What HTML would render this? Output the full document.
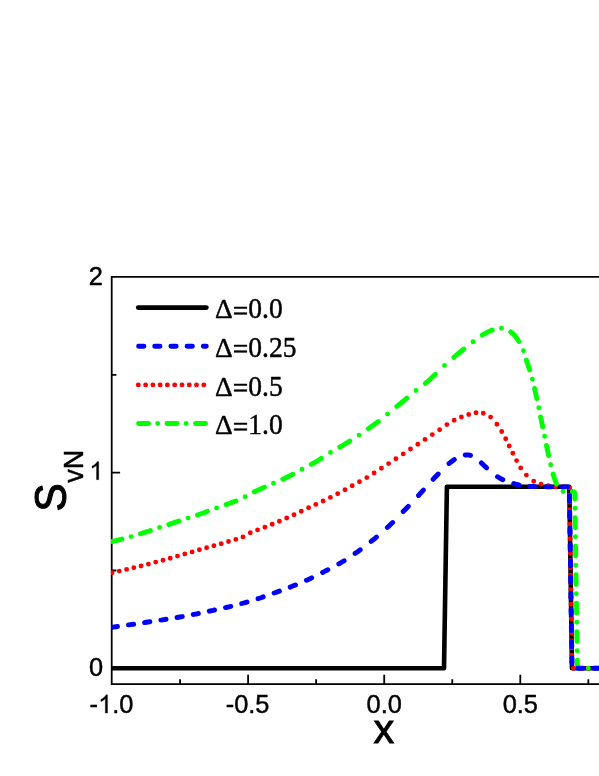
<!DOCTYPE html>
<html><head><meta charset="utf-8"><title>chart</title>
<style>
html,body{margin:0;padding:0;background:#fff;}
body{width:599px;height:776px;overflow:hidden;position:relative;font-family:"Liberation Sans",sans-serif;}
svg{position:absolute;left:0;top:0;display:block;will-change:transform;}
text{fill:#000;stroke:#000;stroke-width:0.45px;stroke-linejoin:round;}
.t{font-family:"Liberation Sans",sans-serif;font-size:25.4px;}
.l{font-family:"Liberation Serif",serif;font-size:28px;stroke:none;}
.c{fill:none;stroke-width:4.35;stroke-linecap:round;stroke-linejoin:round;}
.d{stroke-width:4.9;}
</style></head><body>
<svg width="599" height="776" viewBox="0 0 599 776">
<rect width="599" height="776" fill="#fff"/>
<g transform="translate(0,0.25)">
<!-- frame -->
<g stroke="#000" stroke-width="1.8" fill="none" stroke-linecap="butt">
<path d="M640,276.7 H111.7 V683.8 H640"/>
<path d="M111.7,472.4 h8.4 M111.7,668.1 h8.4 M111.7,374.55 h4.7 M111.7,570.25 h4.7"/>
<path d="M248.1,683.8 v-9.3 M384.2,683.8 v-9.3 M520.3,683.8 v-9.3 M180.05,683.8 v-4.9 M316.15,683.8 v-4.9 M452.25,683.8 v-4.9 M588.35,683.8 v-4.9"/>
</g>
</g>
<!-- tick labels -->
<g class="t" text-anchor="end">
<text x="102.9" y="285.0">2</text>
<text x="103.0" y="675.65">0</text>
<text x="103.4" y="479.7" style="fill:none;stroke:none">1</text>
</g>
<path transform="translate(89.28,479.7) scale(0.012402,-0.012402)" d="M763 0H583V1147Q518 1085 412.5 1023T223 930V1104Q373 1174.5 485.5 1275T644 1470H763Z" fill="#000" stroke="#000" stroke-width="0.3" stroke-linejoin="round" vector-effect="non-scaling-stroke"/>
<g class="t">
<text x="89.62" y="713.1">-<tspan style="fill:none;stroke:none">1</tspan>.0</text>
</g>
<path transform="translate(98.08,713.1) scale(0.012402,-0.012402)" d="M763 0H583V1147Q518 1085 412.5 1023T223 930V1104Q373 1174.5 485.5 1275T644 1470H763Z" fill="#000" stroke="#000" stroke-width="0.3" stroke-linejoin="round" vector-effect="non-scaling-stroke"/>
<g class="t" text-anchor="middle">
<text x="247.6" y="713.1">-0.5</text>
<text x="384.2" y="713.1">0.0</text>
<text x="520.3" y="713.1">0.5</text>
</g>
<text transform="translate(383.85,743.3) scale(0.945,0.917)" text-anchor="middle" style="font-family:'Liberation Sans',sans-serif;font-size:44px;stroke-width:0.95px;stroke-linejoin:miter;">x</text>
<g transform="translate(66.0,511.5) rotate(-90) scale(0.958,1.012)">
<text x="0" y="0" style="font-family:'Liberation Sans',sans-serif;font-size:44px;stroke-width:1.1px;">S</text>
</g>
<g transform="translate(82.7,482.7) rotate(-90)">
<text x="0" y="0" style="font-family:'Liberation Sans',sans-serif;font-size:27px;">vN</text>
</g>
<defs><clipPath id="cp"><rect x="111" y="270" width="520" height="420"/></clipPath></defs>
<g transform="translate(0,0.2)">
<!-- curves -->
<g clip-path="url(#cp)">
<path class="c" stroke="#000" style="stroke-linejoin:round;stroke-linecap:butt;stroke-width:4.6" d="M112.0,668.1 L444.0,668.1 L446.9,486.6 L569.3,486.6 L572.0,668.1 L640.0,668.1"/>
<path class="c d" stroke="#ff0000" d="M112.0,572.6h0M119.3,570.9h0M126.6,569.2h0M133.8,567.5h0M141.1,565.8h0M148.4,563.9h0M155.7,561.9h0M163.0,560.0h0M170.2,558.1h0M177.5,555.9h0M184.8,553.7h0M192.1,551.7h0M199.4,549.6h0M206.6,547.6h0M213.9,545.6h0M221.2,543.5h0M228.5,541.3h0M235.8,539.2h0M243.0,536.7h0M250.3,532.6h0M257.6,529.7h0M264.9,527.0h0M272.2,524.1h0M279.4,521.0h0M286.7,517.8h0M294.0,514.5h0M301.3,511.0h0M308.6,507.5h0M315.8,504.2h0M323.1,500.8h0M330.4,497.2h0M337.7,493.5h0M345.0,489.6h0M352.2,485.6h0M359.5,481.6h0M366.8,477.4h0M374.1,472.8h0M381.4,468.1h0M388.6,463.4h0M395.9,458.6h0M403.2,453.7h0M410.5,448.8h0M417.8,444.0h0M425.0,439.2h0M432.3,434.4h0M439.6,429.5h0M446.9,424.4h0M454.2,420.0h0M461.4,416.8h0M468.7,414.3h0M476.0,412.6h0M483.3,413.1h0M490.6,416.9h0M496.9,424.0h0M501.7,431.3h0M505.7,438.5h0M509.2,445.8h0M512.8,453.1h0M516.6,460.4h0M520.7,467.7h0M526.4,474.9h0M533.7,481.0h0M541.0,484.1h0M548.3,485.4h0M555.6,486.5h0M562.8,486.7h0M569.3,487.5h0M569.4,494.8h0M569.5,502.1h0M569.6,509.4h0M569.7,516.6h0M569.9,523.9h0M570.0,531.2h0M570.1,538.5h0M570.2,545.8h0M570.3,553.0h0M570.4,560.3h0M570.5,567.6h0M570.6,574.9h0M570.7,582.2h0M570.8,589.4h0M570.9,596.7h0M571.0,604.0h0M571.2,611.3h0M571.3,618.6h0M571.4,625.8h0M571.5,633.1h0M571.6,640.4h0M571.7,647.7h0M571.8,655.0h0M571.9,662.2h0M573.4,668.1h0M580.7,668.1h0M588.0,668.1h0M595.3,668.1h0M602.5,668.1h0M609.8,668.1h0M617.1,668.1h0M624.4,668.1h0M631.7,668.1h0M638.9,668.1h0"/>
<path class="c d" stroke="#00ff00" d="M112.0,541.3 L113.0,541.1 L116.0,540.3 L119.0,539.6 L121.9,538.9M131.1,536.4h0M140.4,533.6 L141.0,533.4 L144.0,532.4 L147.0,531.5 L150.0,530.5 L150.4,530.4M159.6,527.3h0M168.9,524.2 L169.0,524.1 L172.0,523.2 L175.0,522.2 L178.0,521.2 L178.9,520.9M188.1,517.9h0M197.4,514.8 L198.0,514.6 L201.0,513.5 L204.0,512.5 L207.0,511.4 L207.4,511.2M216.6,507.7h0M225.9,504.4 L226.0,504.4 L229.0,503.3 L232.0,502.2 L235.0,501.1 L235.9,500.8M245.1,496.5h0M254.3,491.6 L255.0,491.3 L258.0,489.9 L261.0,488.5 L264.0,487.2 L264.4,487.0M273.5,483.0h0M282.8,479.0 L283.0,478.9 L286.0,477.6 L289.0,476.1 L292.0,474.5 L292.8,474.1M302.0,469.0h0M311.3,464.1 L312.0,463.8 L315.0,462.1 L318.0,460.3 L321.0,458.4 L321.3,458.2M330.5,452.2h0M339.8,446.9 L340.0,446.8 L343.0,445.1 L346.0,443.2 L349.0,441.4 L349.8,440.8M359.0,434.9h0M368.3,428.5 L369.0,428.0 L372.0,425.9 L375.0,423.7 L378.0,421.5 L378.3,421.3M387.5,413.9h0M396.8,406.2 L397.0,406.1 L400.0,403.6 L403.0,401.1 L406.0,398.6 L406.8,397.9M416.0,390.3h0M425.3,383.2 L426.0,382.6 L429.0,380.1 L432.0,377.3 L435.0,374.3 L435.3,374.1M444.5,365.2h0M453.8,357.1 L454.0,356.9 L457.0,354.4 L460.0,351.9 L463.0,349.4 L463.8,348.8M473.0,341.5h0M482.3,334.9 L483.0,334.4 L486.0,332.7 L489.0,331.2 L492.0,329.9 L492.3,329.8M501.5,328.0h0M510.8,331.7 L511.0,331.9 L514.0,334.6 L517.0,338.4 L518.9,341.3M523.4,350.5h0M526.4,359.8 L527.0,361.8 L529.6,369.8M532.4,379.0h0M534.6,388.3 L535.0,390.2 L536.8,398.3M538.8,407.5h0M540.6,416.8 L541.0,418.6 L542.7,426.8M544.6,436.0h0M546.5,445.3 L547.0,447.9 L548.6,455.3M550.7,464.5h0M553.1,473.8 L554.0,476.8 L556.4,483.8M563.0,491.3h0M572.3,491.3 L573.0,491.3 L574.7,492.3 L574.8,495.3 L574.8,498.3 L574.8,498.9M575.0,508.1h0M575.1,517.4 L575.1,518.3 L575.2,521.3 L575.2,524.3 L575.2,527.3 L575.3,527.4M575.4,536.6h0M575.5,545.9 L575.5,546.2 L575.6,549.2 L575.6,552.2 L575.7,555.2 L575.7,555.9M575.8,565.1h0M576.0,574.4 L576.0,575.2 L576.0,578.2 L576.1,581.2 L576.1,584.2 L576.1,584.4M576.3,593.6h0M576.4,602.9 L576.4,603.2 L576.5,606.2 L576.5,609.2 L576.5,612.2 L576.6,612.9M576.7,622.1h0M576.8,631.4 L576.9,632.1 L576.9,635.1 L576.9,638.1 L577.0,641.1 L577.0,641.4M577.1,650.6h0M577.3,659.9 L577.3,660.1 L577.3,663.1 L577.4,666.1 L578.4,668.1 L579.2,668.1M588.4,668.1h0M597.6,668.1 L598.3,668.1 L601.2,668.1 L604.2,668.1 L607.2,668.1 L607.6,668.1M616.8,668.1h0M626.1,668.1 L627.1,668.1 L630.1,668.1 L633.0,668.1 L636.0,668.1 L636.1,668.1"/>
<path class="c d" stroke="#0000ff" d="M112.2,627.1 L113.0,627.0 L116.0,626.5 L117.5,626.3M128.4,624.7 L129.0,624.7 L132.0,624.2 L133.7,624.0M144.6,622.4 L145.0,622.3 L148.0,621.8 L149.9,621.6M160.8,619.9 L161.0,619.9 L164.0,619.4 L166.1,619.1M177.0,617.3 L177.0,617.3 L180.0,616.8 L182.3,616.4M193.2,614.3 L194.0,614.2 L197.0,613.6 L198.4,613.3M209.3,611.0 L210.0,610.8 L213.0,610.2 L214.6,609.8M225.5,607.4 L226.0,607.3 L229.0,606.6 L230.8,606.2M241.7,603.4 L242.0,603.3 L245.0,602.5 L247.0,601.9M257.9,598.5 L258.0,598.5 L261.0,597.5 L263.2,596.7M274.1,592.8 L275.0,592.5 L278.0,591.4 L279.4,590.9M290.2,586.9 L291.0,586.6 L294.0,585.4 L295.5,584.8M306.4,580.1 L307.0,579.9 L310.0,578.5 L311.7,577.7M322.6,572.3 L323.0,572.1 L326.0,570.5 L327.9,569.6M338.8,563.7 L339.0,563.6 L342.0,561.8 L344.1,560.6M354.9,553.3 L355.0,553.3 L358.0,551.2 L360.2,549.6M371.1,541.2 L372.0,540.5 L375.0,538.1 L376.4,536.9M387.3,527.3 L388.0,526.7 L391.0,523.8 L392.6,522.3M403.2,511.4 L404.0,510.6 L407.0,507.5 L408.3,506.1M418.5,495.2 L419.0,494.7 L422.0,491.4 L423.4,489.9M433.1,479.1 L434.0,478.1 L437.0,475.0 L438.2,473.8M449.0,463.3 L450.0,462.6 L453.0,460.3 L454.3,459.4M465.2,454.8 L466.0,454.7 L469.0,454.8 L470.5,455.2M481.4,462.7 L482.0,463.3 L485.0,466.2 L486.6,467.6M497.5,476.5 L498.0,476.8 L501.0,478.6 L502.8,479.5M513.7,483.4 L514.0,483.5 L517.0,484.3 L519.0,484.7M529.9,486.2 L530.0,486.2 L533.0,486.3 L535.2,486.4M546.1,486.7 L547.0,486.7 L550.0,486.7 L551.4,486.7M562.2,486.7 L563.0,486.7 L566.0,486.7 L567.5,486.7M569.4,495.8 L569.4,496.7 L569.5,499.7 L569.5,501.1M569.7,512.0 L569.7,512.6 L569.7,515.6 L569.8,517.3M569.9,528.2 L569.9,528.6 L570.0,531.6 L570.0,533.5M570.2,544.4 L570.2,544.5 L570.2,547.5 L570.2,549.7M570.4,560.5 L570.4,561.5 L570.5,564.4 L570.5,565.8M570.6,576.7 L570.6,577.4 L570.7,580.4 L570.7,582.0M570.9,592.9 L570.9,593.3 L570.9,596.3 L571.0,598.2M571.1,609.1 L571.1,609.3 L571.2,612.3 L571.2,614.4M571.4,625.3 L571.4,626.2 L571.4,629.2 L571.4,630.6M571.6,641.4 L571.6,642.2 L571.7,645.2 L571.7,646.7M571.8,657.6 L571.9,658.1 L571.9,661.1 L571.9,662.9M577.7,668.1 L578.0,668.1 L581.0,668.1 L583.0,668.1M593.9,668.1 L594.0,668.1 L597.0,668.1 L599.2,668.1M610.1,668.1 L611.0,668.1 L614.0,668.1 L615.4,668.1M626.2,668.1 L627.0,668.1 L630.0,668.1 L631.5,668.1"/>
</g>
<!-- legend -->
<path class="c d" stroke="#000" d="M138.3,307.4 H206.3"/>
<path class="c d" stroke="#0000ff" d="M138.6,346.0 L139.3,346.0 L142.3,346.0 L143.9,346.0M154.7,346.0 L155.3,346.0 L158.3,346.0 L160.0,346.0M170.9,346.0 L171.3,346.0 L174.3,346.0 L176.2,346.0M187.1,346.0 L187.3,346.0 L190.3,346.0 L192.4,346.0M203.3,346.0 L203.3,346.0 L206.3,346.0"/>
<path class="c d" stroke="#ff0000" d="M138.3,384.7h0M145.6,384.7h0M152.9,384.7h0M160.1,384.7h0M167.4,384.7h0M174.7,384.7h0M182.0,384.7h0M189.3,384.7h0M196.5,384.7h0M203.8,384.7h0"/>
<path class="c d" stroke="#00ff00" d="M138.6,423.3 L139.3,423.3 L142.3,423.3 L145.3,423.3 L148.3,423.3 L148.6,423.3M157.7,423.3h0M167.0,423.3 L167.3,423.3 L170.3,423.3 L173.3,423.3 L176.3,423.3 L177.0,423.3M186.2,423.3h0M195.5,423.3 L196.3,423.3 L199.3,423.3 L202.3,423.3 L205.3,423.3 L205.5,423.3"/>
</g>
<g class="l">
<text transform="translate(215.1,318.2) scale(0.982,0.955)">&#916;</text><text transform="translate(232.79,318.2) scale(0.982,1.045)"><tspan dy="2.5">=</tspan><tspan dy="-2.5">0.0</tspan></text>
<text transform="translate(215.1,356.8) scale(0.982,0.955)">&#916;</text><text transform="translate(232.79,356.8) scale(0.982,1.045)"><tspan dy="2.5">=</tspan><tspan dy="-2.5">0.25</tspan></text>
<text transform="translate(215.1,395.5) scale(0.982,0.955)">&#916;</text><text transform="translate(232.79,395.5) scale(0.982,1.045)"><tspan dy="2.5">=</tspan><tspan dy="-2.5">0.5</tspan></text>
<text transform="translate(215.1,434.1) scale(0.982,0.955)">&#916;</text><text transform="translate(232.79,434.1) scale(0.982,1.045)"><tspan dy="2.5">=</tspan><tspan dy="-2.5">1.0</tspan></text>
</g>
</svg>
</body></html>
